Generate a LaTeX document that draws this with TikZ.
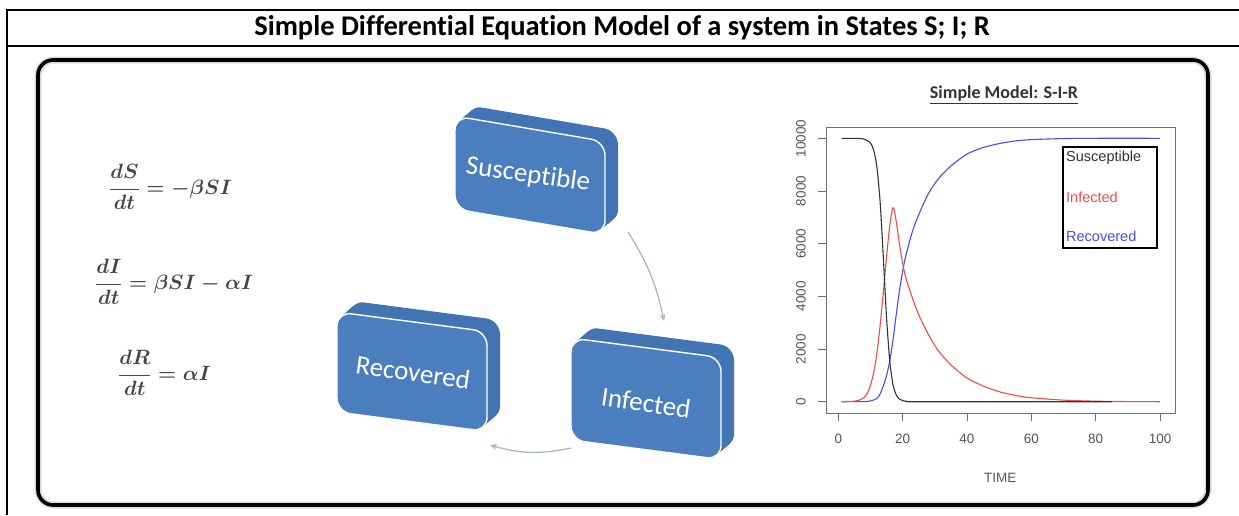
\documentclass[tikz,border=0pt]{standalone}
\usepackage{amsmath}
\usepackage[no-math]{fontspec}
\setmainfont{Carlito}[Ligatures=NoCommon]
\newfontfamily\plotfont{Liberation Sans}
\usetikzlibrary{arrows.meta}

\definecolor{slabblue}{HTML}{4A7EBF}
\definecolor{slabside}{HTML}{4273B3}
\definecolor{flowgray}{HTML}{A9B7C9}
\definecolor{eqcol}{HTML}{4A4641}
\definecolor{axisgray}{HTML}{707070}
\definecolor{labelgray}{HTML}{555555}
\definecolor{Scol}{HTML}{333333}
\definecolor{Icol}{HTML}{EE4B4B}
\definecolor{Rcol}{HTML}{4B4BE6}

% a tilted, extruded rounded slab with a label on its front face
% #1 name, #2/#3 top-left corner of the front face, #4 slope, #5 height,
% #6/#7 label position, #8 label
\newcommand\slab[8]{%
  \begin{scope}[shift={(#2,#3)}, yslant=-#4]
    \foreach \k in {13,12,...,1}
      \fill[slabside, rounded corners=14pt] (\k,-\k) rectangle ++(150,#5);
    \filldraw[fill=slabblue, draw=white, line width=1.4pt, rounded corners=14pt]
      (0,0) rectangle (150,#5);
  \end{scope}
  \node[slabtext] (#1) at (#6,#7) {#8};
}

\begin{document}
\begin{tikzpicture}[x=1pt, y=-1pt,
    tablerule/.style={line width=1.2pt, black},
    frame/.style={line width=3.6pt, black, rounded corners=15pt},
    framehalo/.style={line width=7pt, black!15, rounded corners=16pt},
    slabtext/.style={text=white, font=\fontsize{27}{32}\selectfont, rotate=-8, inner sep=0pt},
    flow/.style={draw=flowgray, line width=1.3pt, -{Stealth[length=7pt, width=6pt]}},
    eq/.style={anchor=west, text=eqcol, font=\fontsize{20}{24}\selectfont\boldmath, inner sep=0pt},
    ticklabel/.style={text=labelgray, font=\plotfont\fontsize{13.5}{15}\selectfont, inner sep=0pt},
    legendtext/.style={anchor=west, font=\plotfont\fontsize{14.5}{16}\selectfont, inner sep=0pt},
    curve/.style={line width=1.1pt, smooth, tension=0.45}]
\useasboundingbox (0,0) rectangle (1239,515);

% table rules and heading
\draw[tablerule] (7,515) -- (7,10) -- (1239,10);
\draw[tablerule] (7,46) -- (1239,46);
\node[font=\fontsize{28.5}{32}\selectfont\bfseries, inner sep=0pt] (title) at (622,28)
  {Simple Differential Equation Model of a system in States S; I; R};

% rounded frame
\draw[framehalo] (38,60) rectangle (1208,505);
\draw[frame] (38,60) rectangle (1208,505);

% equations
\node[eq] (eqS) at (109,187) {$\dfrac{dS}{dt} = -\beta SI$};
\node[eq] (eqI) at (95,282) {$\dfrac{dI}{dt} = \beta SI - \alpha I$};
\node[eq] (eqR) at (118,373) {$\dfrac{dR}{dt} = \alpha I$};

% compartments
\slab{S}{455}{116}{0.17}{93}{528}{175}{Susceptible}
\slab{R}{337}{312}{0.13}{100}{413}{372}{Recovered}
\slab{I}{571}{338}{0.13}{102}{646}{403}{Infected}

% transitions
\draw[flow] ([shift={(100,57)}]S.center) to[bend left=10] ([shift={(18,-82)}]I.center);
\draw[flow] ([shift={(-75,45)}]I.center) to[bend left=14] ([shift={(77,73)}]R.center);

% plot heading
\node[text=Scol, font=\fontsize{18}{21}\selectfont\bfseries, inner sep=0pt] (ptitle) at (1004,95)
  {\underline{Simple Model: S-I-R}};

% plot
\begin{scope}[shift={(838.3,401.7)}, x=3.217pt, y=26.34pt]
  \draw[axisgray, line width=0.9pt] (-3.82,-0.43) rectangle (104.7,10.43);
  \foreach \t in {0,20,...,100} {
    \draw[axisgray, line width=0.9pt] (\t,-0.43) -- (\t,-0.73);
    \node[ticklabel] (xl\t) at (\t,-1.42) {\t};
  }
  \foreach \v/\lab in {0/0,2/2000,4/4000,6/6000,8/8000,10/10000} {
    \draw[axisgray, line width=0.9pt] (-3.82,\v) -- (-6.3,\v);
    \node[ticklabel, rotate=90] (yl\v) at (-11.6,\v) {\lab};
  }
  \node[ticklabel] (xtitle) at (50.3,-2.9) {TIME};

  % recovered
  \draw[curve, Rcol] plot coordinates {(1,0) (8,0.005) (10,0.03) (12,0.12) (13,0.3) (14,0.6)
    (15,1.0) (16,1.55) (17,2.35) (18,3.3) (19,4.2) (20,4.95) (21,5.55) (23,6.45) (25,7.1)
    (28,7.9) (31,8.45) (35,8.95) (40,9.4) (45,9.65) (50,9.8) (55,9.9) (60,9.95) (70,9.99)
    (80,10) (100,10)};
  % infected
  \draw[curve, Icol] plot coordinates {(1,0) (5,0.02) (7,0.08) (8,0.16) (9,0.32) (10,0.62)
    (11,1.1) (12,1.85) (13,2.9) (14,4.15) (15,5.5) (16,6.7) (16.9,7.35) (17.5,7.2)
    (18.3,6.6) (19,6.0) (20,5.25) (21,4.7) (23,3.95) (25,3.3) (28,2.55) (31,1.95) (35,1.4)
    (40,0.9) (45,0.6) (50,0.38) (55,0.24) (60,0.15) (70,0.06) (80,0.02) (90,0.005) (100,0)};
  % susceptible
  \draw[curve, Scol] plot coordinates {(1,10) (6,9.995) (8,9.97) (10,9.82) (11,9.54)
    (12,8.9) (13,7.58) (14,5.47) (15,3.18) (16,1.53) (17,0.65) (18,0.26) (19,0.1)
    (20,0.04) (22,0.006) (25,0) (85,0)};
\end{scope}

% legend
\draw[black, line width=1.6pt] (1063,147) rectangle (1157,248);
\node[legendtext, text=Scol] (lgS) at (1066,158) {Susceptible};
\node[legendtext, text=Icol] (lgI) at (1066,197) {Infected};
\node[legendtext, text=Rcol] (lgR) at (1066,236) {Recovered};
\end{tikzpicture}
\end{document}
